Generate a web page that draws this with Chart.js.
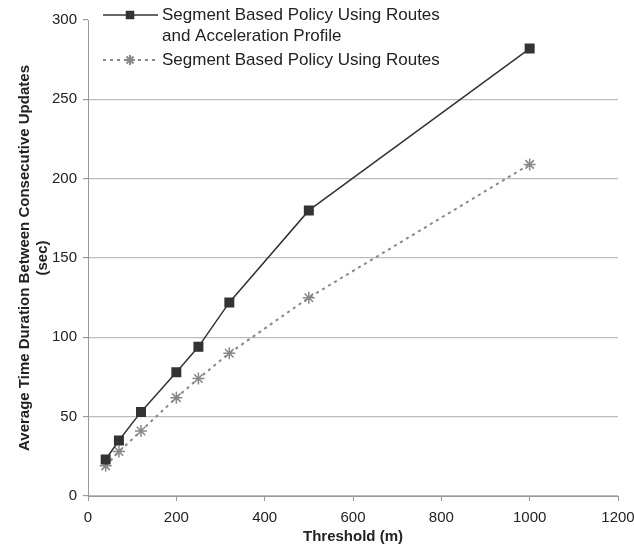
<!DOCTYPE html>
<html>
<head>
<meta charset="utf-8">
<script src="https://cdn.jsdelivr.net/npm/chart.js@4"></script>
<style>
  html, body { margin: 0; padding: 0; background: #fff; }
  #wrap { width: 634px; height: 557px; }
</style>
</head>
<body>
<div id="wrap"><canvas id="chart" width="634" height="557"></canvas></div>
<script>
// data
const thresholds = [40, 70, 120, 200, 250, 320, 500, 1000];
const accelValues = [23, 35, 53, 78, 94, 122, 180, 282];
const routesValues = [19, 28, 41, 62, 74, 90, 125, 209];
const accelLabel = ['Segment Based Policy Using Routes', 'and Acceleration Profile'];
const routesLabel = ['Segment Based Policy Using Routes'];
const xTitle = 'Threshold (m)';
const yTitle = ['Average Time Duration Between Consecutive Updates', '(sec)'];

const FONT = "'Liberation Sans', Arial, Helvetica, sans-serif";

function toPoints(values) {
  return thresholds.map((x, i) => ({ x: x, y: values[i] }));
}

//Legend drawn by hand so the first entry can wrap onto two lines
const legendPlugin = {
  id: 'customLegend',
  afterDraw(chart) {
    const ctx = chart.ctx;
    ctx.save();
    const entries = [
      { lines: accelLabel, ds: chart.data.datasets[0], y: 15 },
      { lines: routesLabel, ds: chart.data.datasets[1], y: 60 }
    ];
    ctx.font = '17px ' + FONT;
    ctx.textBaseline = 'middle';
    entries.forEach(e => {
      ctx.strokeStyle = e.ds.borderColor;
      ctx.lineWidth = e.ds.borderWidth;
      ctx.setLineDash(e.ds.borderDash || []);
      ctx.beginPath();
      ctx.moveTo(103, e.y);
      ctx.lineTo(158, e.y);
      ctx.stroke();
      ctx.setLineDash([]);
      ctx.fillStyle = e.ds.backgroundColor;
      Chart.helpers.drawPoint(ctx, {
        pointStyle: e.ds.pointStyle,
        radius: 5,
        borderWidth: e.ds.pointBorderWidth || 1
      }, 130, e.y);
      ctx.fillStyle = '#222';
      e.lines.forEach((t, i) => ctx.fillText(t, 162, e.y + i * 21));
    });
    ctx.restore();
  }
};

new Chart(document.getElementById('chart'), {
  type: 'line',
  data: {
    datasets: [{
      label: accelLabel.join(' '),
      data: toPoints(accelValues),
      borderColor: '#333',
      backgroundColor: '#333',
      pointBorderColor: '#333',
      borderWidth: 1.5,
      pointStyle: 'rect',
      pointRadius: 6,
      tension: 0
    }, {
      label: routesLabel.join(' '),
      data: toPoints(routesValues),
      borderColor: '#888',
      backgroundColor: '#888',
      pointBorderColor: '#888',
      borderWidth: 2,
      borderDash: [3, 4],
      pointStyle: 'star',
      pointRadius: 6,
      pointBorderWidth: 1.5,
      tension: 0
    }]
  },
  options: {
    responsive: false,
    animation: false,
    layout: { padding: { top: 20, right: 16, left: 14, bottom: 7 } },
    plugins: {
      legend: { display: false },
      tooltip: { enabled: false }
    },
    scales: {
      x: {
        type: 'linear',
        min: 0,
        max: 1200,
        ticks: { stepSize: 200, color: '#222', font: { family: FONT, size: 15 }, padding: 8, callback: v => String(v) },
        grid: { drawOnChartArea: false, tickLength: 5, tickColor: '#999' },
        border: { color: '#999' },
        title: { display: true, text: xTitle, color: '#222', font: { family: FONT, size: 15, weight: 'bold' }, padding: { top: 6 } },
        afterFit(scale) {
          scale.height = 54;
          scale.paddingLeft = 0;
          scale.paddingRight = 0;
        }
      },
      y: {
        min: 0,
        max: 300,
        ticks: { stepSize: 50, color: '#222', font: { family: FONT, size: 15 }, padding: 6 },
        grid: {
          color: ctx => (ctx.tick && ctx.tick.value === 300) ? 'rgba(0,0,0,0)' : '#bbb',
          tickColor: '#999',
          tickLength: 5,
          lineWidth: 1.2
        },
        border: { color: '#999' },
        title: { display: true, text: yTitle, color: '#222', font: { family: FONT, size: 15, weight: 'bold' }, padding: 2 },
        afterFit(scale) { scale.width = 74; }
      }
    }
  },
  plugins: [legendPlugin]
});
</script>
</body>
</html>
